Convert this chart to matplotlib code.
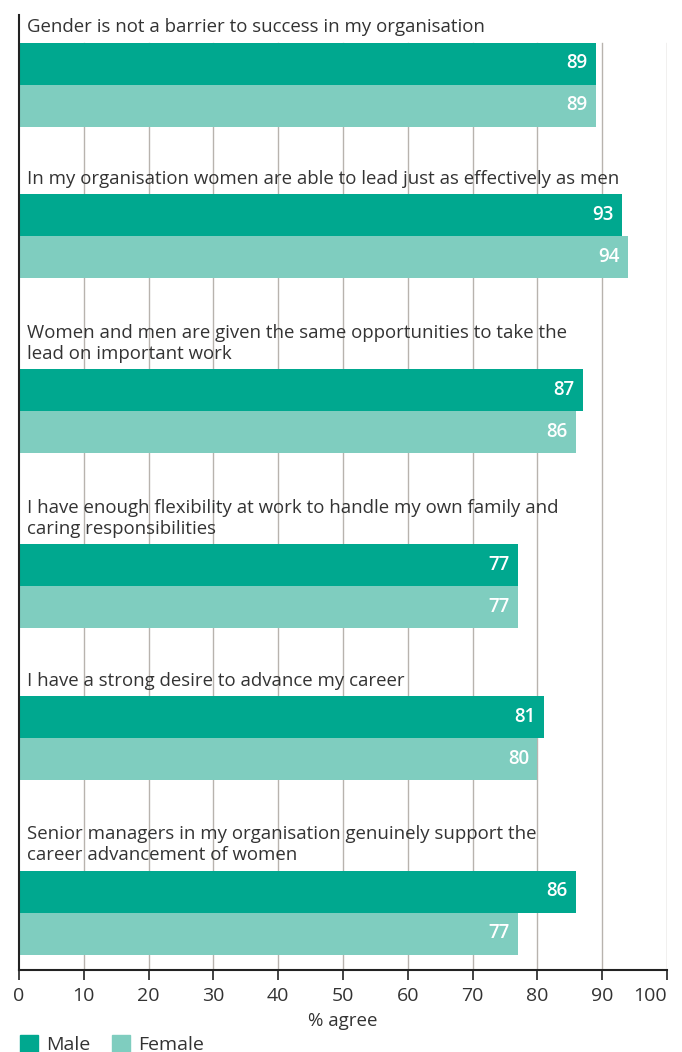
import numpy as np
import matplotlib.pyplot as plt
from matplotlib.patches import Patch

plt.rcParams['font.family'] = ['Open Sans', 'DejaVu Sans']

# data
statements = [
    "Gender is not a barrier to success in my organisation",
    "In my organisation women are able to lead just as effectively as men",
    "Women and men are given the same opportunities to take the\nlead on important work",
    "I have enough flexibility at work to handle my own family and\ncaring responsibilities",
    "I have a strong desire to advance my career",
    "Senior managers in my organisation genuinely support the\ncareer advancement of women",
]
male = [89, 93, 87, 77, 81, 86]
female = [89, 94, 86, 77, 80, 77]
xticks = [0, 10, 20, 30, 40, 50, 60, 70, 80, 90, 100]

male_col = "#00a88f"
female_col = "#7fcdbf"
text_col = "#333333"
grid_col = "#b8b3ae"

W, H = 682, 1052
fig = plt.figure(figsize=(W / 100, H / 100), dpi=100)
top_px, bot_px = 15, 970
ax = fig.add_axes([19 / W, 1 - bot_px / H, (667 - 19) / W, (bot_px - top_px) / H])
ax.set_ylim(bot_px, top_px)
ax.set_xlim(0, 100)

# layout in pixel units: bar height, gap, line height of the header text
bh = 42
line_h = 23.5
y = top_px + 4
first_bar = None
for i, s in enumerate(statements):
    nl = s.count("\n") + 1
    y += line_h * nl
    if first_bar is None:
        first_bar = y
    ax.barh(y, male[i], height=bh, align='edge', color=male_col, zorder=2)
    ax.barh(y + bh, female[i], height=bh, align='edge', color=female_col, zorder=2)
    ax.text(1.3, y - 6, s, ha='left', va='bottom', fontsize=13.4,
            color=text_col, linespacing=1.22, zorder=3)
    ax.text(male[i] - 1.3, y + bh / 2, str(male[i]), ha='right', va='center',
            fontsize=13.5, color='white', fontweight='semibold', zorder=3)
    ax.text(female[i] - 1.3, y + bh * 1.5, str(female[i]), ha='right', va='center',
            fontsize=13.5, color='white', fontweight='semibold', zorder=3)
    y += 2 * bh + 44

# vertical grid lines start at the first bar
for xv in xticks[1:]:
    ax.plot([xv, xv], [first_bar, bot_px], color=grid_col, lw=1, zorder=1)

for sp in ['top', 'right']:
    ax.spines[sp].set_visible(False)
ax.spines['left'].set_linewidth(1.5)
ax.spines['bottom'].set_linewidth(1.5)
ax.spines['left'].set_color('#222222')
ax.spines['bottom'].set_color('#222222')
ax.set_yticks([])
ax.set_xticks(xticks)
ax.tick_params(axis='x', length=7, width=1.2, color='#222222', pad=5,
               labelsize=14, labelcolor=text_col)
# last label kept inside the figure
ax.get_xticklabels()[-1].set_horizontalalignment('right')
ax.set_xlabel("% agree", fontsize=13.5, color=text_col, labelpad=5)

handles = [Patch(color=male_col, label="Male"), Patch(color=female_col, label="Female")]
fig.legend(handles=handles, loc='lower left', bbox_to_anchor=(20 / W, -0.002), ncol=2,
           frameon=False, fontsize=14, handlelength=0.93, handleheight=0.93,
           handletextpad=0.41, columnspacing=1.13, labelcolor=text_col,
           borderpad=0, borderaxespad=0)

fig.savefig("out.png", dpi=100)
